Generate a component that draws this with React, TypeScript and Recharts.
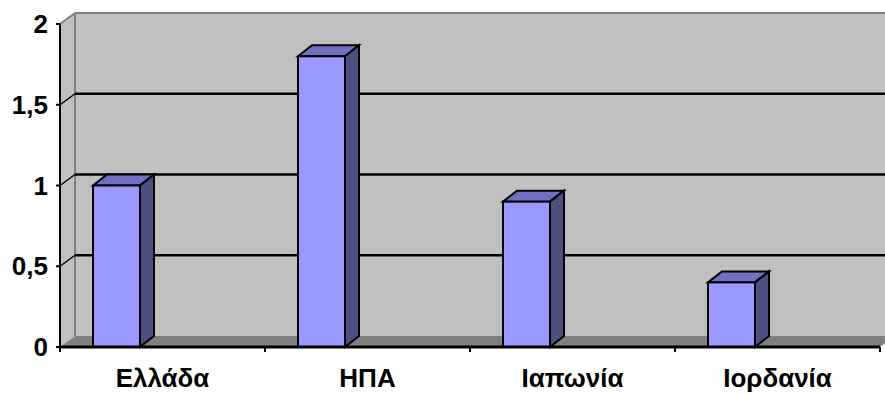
import { BarChart, Bar, XAxis, YAxis, CartesianGrid, ReferenceArea } from 'recharts';

const countries = ['Ελλάδα', 'ΗΠΑ', 'Ιαπωνία', 'Ιορδανία'];
const values = [1, 1.8, 0.9, 0.4];
const yTicks = [0, 0.5, 1, 1.5, 2];
const wallTicks = [0.5, 1, 1.5];

const rows = countries.map((country, i) => ({ country, value: values[i] }));

// depth of the box (walls) and of each column
const DX = 15;
const DY = 11;
const BAR_DX = 14;
const BAR_DY = 11;
// columns sit toward the left of their category slot
const SLOT_SHIFT = -46;

const WALL = '#c0c0c0';
const FLOOR = '#808080';
const FONT = '"Liberation Sans", Arial, sans-serif';

const pts = (list: number[][]) => list.map((p) => p.join(',')).join(' ');

function Walls(props: any) {
	const { x, y, width, height } = props;
	const b = y + height;
	const r = x + width;
	return (
		<g>
			<polygon points={pts([[x + DX, y - DY], [r + DX, y - DY], [r + DX, b - DY], [x + DX, b - DY]])} fill={WALL} />
			<polygon points={pts([[x, y], [x + DX, y - DY], [x + DX, b - DY], [x, b]])} fill={WALL} />
			<polygon points={pts([[x, b], [x + DX, b - DY], [r + DX, b - DY], [r, b]])} fill={FLOOR} />
			<line x1={x + DX} y1={y - DY} x2={r + DX} y2={y - DY} stroke={FLOOR} strokeWidth={2} />
			<line x1={x} y1={y} x2={x + DX} y2={y - DY} stroke={FLOOR} strokeWidth={2} />
			<line x1={x + DX} y1={y - DY} x2={x + DX} y2={b - DY} stroke={FLOOR} strokeWidth={2} />
		</g>
	);
}

function WallLine(props: any) {
	const { x1, x2, y1 } = props;
	return (
		<g>
			<line x1={x1} y1={y1} x2={x1 + DX} y2={y1 - DY} stroke="#000" strokeWidth={1.5} />
			<line x1={x1 + DX} y1={y1 - DY} x2={x2 + DX} y2={y1 - DY} stroke="#000" strokeWidth={2.5} />
		</g>
	);
}

function Column(props: any) {
	const { x, y, width, height } = props;
	const l = x + SLOT_SHIFT;
	const r = l + width;
	const b = y + height;
	return (
		<g stroke="#000" strokeWidth={2} strokeLinejoin="miter">
			<polygon points={pts([[l, y], [l + BAR_DX, y - BAR_DY], [r + BAR_DX, y - BAR_DY], [r, y]])} fill="#7070c0" />
			<polygon points={pts([[r, y], [r + BAR_DX, y - BAR_DY], [r + BAR_DX, b - BAR_DY], [r, b]])} fill="#4e4e80" />
			<rect x={l} y={y} width={width} height={height} fill="#9999ff" />
		</g>
	);
}

function CountryTick(props: any) {
	const { x, y, payload, index, visibleTicksCount } = props;
	const half = payload.offset;
	const axisY = y - 5;
	return (
		<g>
			<line x1={x - half} y1={axisY} x2={x - half} y2={y} stroke="#000" strokeWidth={2} />
			{index === visibleTicksCount - 1 && (
				<line x1={x + half} y1={axisY} x2={x + half} y2={y} stroke="#000" strokeWidth={2} />
			)}
			<text x={x} y={y + 35} textAnchor="middle" fill="#000" fontSize={26} fontWeight="bold" fontFamily={FONT}>
				{payload.value}
			</text>
		</g>
	);
}

export default function App() {
	return (
		<div style={{ position: 'absolute', left: 0, top: 0, background: '#fff' }}>
			<BarChart
				width={885}
				height={394}
				data={rows}
				margin={{ top: 24, right: 5, bottom: 0, left: 0 }}
				barSize={47}
			>
				<ReferenceArea y1={0} y2={2} shape={Walls} ifOverflow="visible" zIndex={-200} />
				<CartesianGrid vertical={false} horizontalValues={wallTicks} horizontal={WallLine} />
				<XAxis
					dataKey="country"
					height={47}
					interval={0}
					tickLine={false}
					tickSize={5}
					tickMargin={0}
					axisLine={{ stroke: '#000', strokeWidth: 3 }}
					tick={CountryTick}
				/>
				<YAxis
					width={60}
					domain={[0, 2]}
					ticks={yTicks}
					tickSize={4}
					tickMargin={8}
					axisLine={{ stroke: '#000', strokeWidth: 2 }}
					tickLine={{ stroke: '#000', strokeWidth: 2 }}
					tickFormatter={(v: number) => String(v).replace('.', ',')}
					tick={{ fill: '#000', fontSize: 26, fontWeight: 'bold', fontFamily: FONT }}
				/>
				<Bar dataKey="value" shape={Column} isAnimationActive={false} />
			</BarChart>
		</div>
	);
}
